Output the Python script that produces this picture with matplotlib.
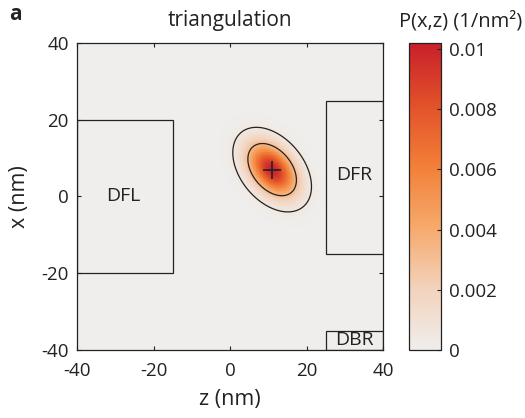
import numpy as np
import matplotlib
matplotlib.use("Agg")
import matplotlib.pyplot as plt
from matplotlib.colors import LinearSegmentedColormap
from matplotlib.patches import Rectangle

plt.rcParams['font.family'] = ['Open Sans', 'DejaVu Sans']
plt.rcParams['axes.unicode_minus'] = False

# position estimate
mu_z, mu_x = 11.0, 7.0       # nm
sig_z, sig_x = 4.2, 4.5      # nm
rho = -0.4
p_peak = 0.0101              # density at the "+"
p_max = 0.0102               # colour scale top

# contour levels: 68 % and 95 % enclosed probability
mass_levels = [0.95, 0.68]

# dye / marker boxes: (name, z0, x0, width, height)
boxes = [("DFL", -40, -20, 25, 40),
         ("DFR", 25, -15, 15, 40),
         ("DBR", 25, -40, 15, 5)]
label_pos = {"DFL": (-28, 0), "DFR": (32.5, 5.5), "DBR": (32.5, -37.4)}

ticks = [-40, -20, 0, 20, 40]
cb_ticks = [0, 0.002, 0.004, 0.006, 0.008, 0.01]
cb_labels = ["0", "0.002", "0.004", "0.006", "0.008", "0.01"]

cmap = LinearSegmentedColormap.from_list("pz", [
    (0.0, "#efeeec"), (0.2, "#f3d2bb"), (0.4, "#f6a96c"),
    (0.6, "#f27f37"), (0.8, "#e2512a"), (1.0, "#c91f2a")])

# density on a grid
z = np.linspace(-40, 40, 401)
x = np.linspace(-40, 40, 401)
Z, X = np.meshgrid(z, x)
dz = (Z - mu_z) / sig_z
dx = (X - mu_x) / sig_x
q = (dz**2 - 2 * rho * dz * dx + dx**2) / (1 - rho**2)
P = p_peak * np.exp(-q / 2)
levels = sorted(p_peak * (1 - np.array(mass_levels)))

fig = plt.figure(figsize=(5.25, 4.18), dpi=100)
ax = fig.add_axes([0.1467, 0.1627, 0.583, 0.7345])
im = ax.pcolormesh(Z, X, P, cmap=cmap, vmin=0, vmax=p_max, shading="auto", rasterized=True)
ax.contour(Z, X, P, levels=levels, colors="#222222", linewidths=0.9)
ax.plot(mu_z, mu_x, "+", color="#222222", ms=13, mew=1.2)

for name, z0, x0, w, h in boxes:
    ax.add_patch(Rectangle((z0, x0), w, h, fill=False, ec="#222222", lw=0.9))
    ax.text(*label_pos[name], name, ha="center", va="center", fontsize=14, color="#222222")

ax.set_xlim(-40, 40)
ax.set_ylim(-40, 40)
ax.set_xticks(ticks)
ax.set_yticks(ticks)
ax.tick_params(direction="in", top=True, right=True, length=3, width=0.8,
               labelsize=13.5, colors="#222222")
ax.tick_params(axis="x", pad=9)
ax.tick_params(axis="y", pad=6)
for s in ax.spines.values():
    s.set_linewidth(0.9)
    s.set_color("#222222")
ax.set_xlabel("z (nm)", fontsize=15.5, color="#222222", labelpad=6)
ax.set_ylabel("x (nm)", fontsize=15.5, color="#222222", labelpad=8)
ax.set_title("triangulation", fontsize=15, color="#222222", pad=12)

cax = fig.add_axes([0.779, 0.1627, 0.061, 0.7345])
cb = fig.colorbar(im, cax=cax)
cb.set_ticks(cb_ticks)
cb.set_ticklabels(cb_labels)
cb.ax.tick_params(direction="in", length=3, width=0.8, labelsize=13.5, colors="#222222", pad=6)
cb.outline.set_linewidth(0.9)
cb.outline.set_edgecolor("#222222")
fig.text(0.878, 0.948, "P(x,z) (1/nm²)", ha="center", va="center", fontsize=14.5, color="#222222")

fig.text(0.018, 0.965, "a", fontsize=15, fontweight="bold", ha="left", va="center", color="#222222")

fig.savefig("out.png", dpi=100)
